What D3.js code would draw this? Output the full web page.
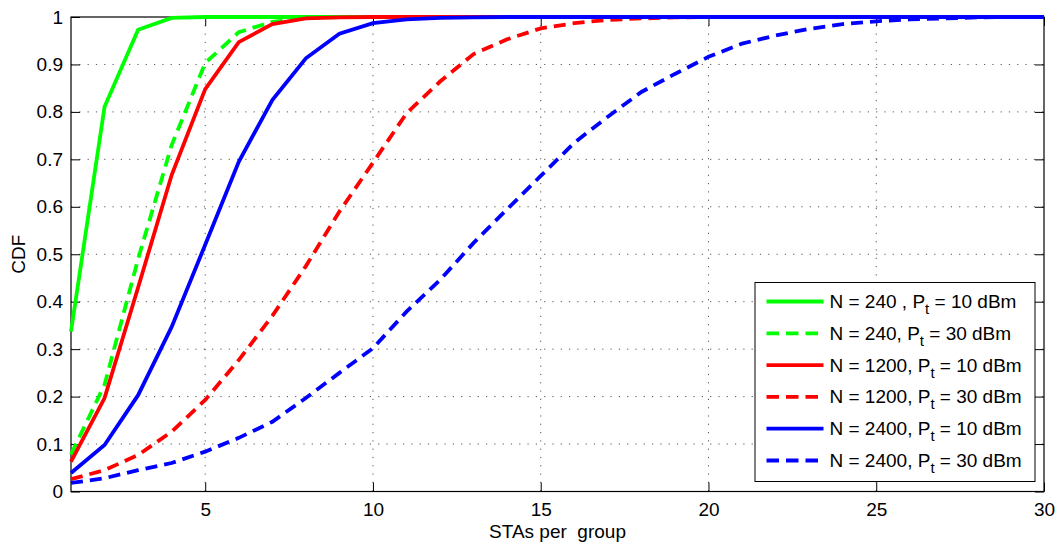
<!DOCTYPE html>
<html>
<head>
<meta charset="utf-8">
<script src="https://cdn.jsdelivr.net/npm/d3@7"></script>
<style>
  html, body { margin: 0; padding: 0; background: #fff; }
  svg { display: block; font-family: "Liberation Sans", Arial, sans-serif; }
  text { white-space: pre; }
</style>
</head>
<body>
<svg id="chart" width="1063" height="544"></svg>
<script>
// ---- data ----
const xValues = d3.range(1, 31);
const greenSolid  = [0.337,0.811,0.973,0.998,1,1,1,1,1,1,1,1,1,1,1,1,1,1,1,1,1,1,1,1,1,1,1,1,1,1];
const greenDashed = [0.078,0.225,0.49,0.73,0.903,0.968,0.99,0.998,1,1,1,1,1,1,1,1,1,1,1,1,1,1,1,1,1,1,1,1,1,1];
const redSolid    = [0.063,0.197,0.43,0.667,0.848,0.947,0.985,0.997,0.999,1,1,1,1,1,1,1,1,1,1,1,1,1,1,1,1,1,1,1,1,1];
const redDashed   = [0.026,0.045,0.077,0.126,0.193,0.277,0.37,0.475,0.59,0.693,0.797,0.864,0.922,0.953,0.976,0.987,0.994,0.997,0.999,1,1,1,1,1,1,1,1,1,1,1];
const blueSolid   = [0.039,0.098,0.203,0.347,0.52,0.695,0.825,0.913,0.965,0.987,0.995,0.998,0.999,1,1,1,1,1,1,1,1,1,1,1,1,1,1,1,1,1];
const blueDashed  = [0.018,0.028,0.045,0.06,0.084,0.113,0.147,0.197,0.25,0.302,0.379,0.446,0.524,0.595,0.665,0.735,0.79,0.842,0.88,0.916,0.944,0.961,0.975,0.985,0.991,0.995,0.997,0.999,1,1];

const xTicks = [5, 10, 15, 20, 25, 30];
const yTicks = [0, 0.1, 0.2, 0.3, 0.4, 0.5, 0.6, 0.7, 0.8, 0.9, 1];
const yTickLabels = ["0","0.1","0.2","0.3","0.4","0.5","0.6","0.7","0.8","0.9","1"];

const seriesNames = [
  ["N = 240 , P", "t", " = 10 dBm"],
  ["N = 240, P", "t", " = 30 dBm"],
  ["N = 1200, P", "t", " = 10 dBm"],
  ["N = 1200, P", "t", " = 30 dBm"],
  ["N = 2400, P", "t", " = 10 dBm"],
  ["N = 2400, P", "t", " = 30 dBm"]
];
const seriesData = [greenSolid, greenDashed, redSolid, redDashed, blueSolid, blueDashed];
const seriesColors = ["#00ff00", "#00ff00", "#ff0000", "#ff0000", "#0000ff", "#0000ff"];
const seriesDashed = [false, true, false, true, false, true];

// ---- layout ----
const mLeft = 71, mRight = 1044, mTop = 17, mBottom = 491.5;
const svg = d3.select("#chart");

const x = d3.scaleLinear().domain([1, 30]).range([mLeft, mRight]);
const y = d3.scaleLinear().domain([0, 1]).range([mBottom, mTop]);

// grid
const grid = svg.append("g");
grid.selectAll("line.gx").data(xTicks.filter(t => t < 30)).enter().append("line")
  .attr("x1", d => x(d)).attr("x2", d => x(d)).attr("y1", mTop).attr("y2", mBottom)
  .attr("stroke", "#555").attr("stroke-width", 1).attr("stroke-dasharray", "1.2,7.1");
grid.selectAll("line.gy").data(yTicks.filter(t => t > 0 && t < 1)).enter().append("line")
  .attr("x1", mLeft).attr("x2", mRight).attr("y1", d => y(d)).attr("y2", d => y(d))
  .attr("stroke", "#555").attr("stroke-width", 1).attr("stroke-dasharray", "1.2,7.1");

// axes (inward ticks, MATLAB style)
const fontSize = 19;
const axB = svg.append("g").attr("transform", `translate(0,${mBottom})`)
  .call(d3.axisBottom(x).tickValues(xTicks).tickSizeInner(-9).tickSizeOuter(0).tickPadding(11).tickFormat(d3.format("d")));
const axT = svg.append("g").attr("transform", `translate(0,${mTop})`)
  .call(d3.axisTop(x).tickValues(xTicks).tickSizeInner(-9).tickSizeOuter(0).tickFormat(""));
const axL = svg.append("g").attr("transform", `translate(${mLeft},0)`)
  .call(d3.axisLeft(y).tickValues(yTicks).tickSizeInner(-9).tickSizeOuter(0).tickPadding(8).tickFormat((d, i) => yTickLabels[i]));
const axR = svg.append("g").attr("transform", `translate(${mRight},0)`)
  .call(d3.axisRight(y).tickValues(yTicks).tickSizeInner(-9).tickSizeOuter(0).tickFormat(""));
[axB, axT, axL, axR].forEach(a => {
  a.select(".domain").remove();
  a.selectAll(".tick line").attr("stroke", "#000").attr("stroke-width", 1);
  a.selectAll(".tick text").attr("fill", "#000").style("font-size", fontSize + "px")
    .style("font-family", '"Liberation Sans", Arial, sans-serif');
});

// box
svg.append("rect").attr("x", mLeft).attr("y", mTop).attr("width", mRight - mLeft).attr("height", mBottom - mTop)
  .attr("fill", "none").attr("stroke", "#000").attr("stroke-width", 1.2);

// lines
const line = d3.line().x((d, i) => x(xValues[i])).y(d => y(d));
seriesData.forEach((s, i) => {
  svg.append("path").datum(s).attr("d", line)
    .attr("fill", "none").attr("stroke", seriesColors[i]).attr("stroke-width", 3.8)
    .attr("stroke-linejoin", "miter")
    .attr("stroke-dasharray", seriesDashed[i] ? "12,7" : null);
});

// axis labels
svg.append("text").attr("x", (mLeft + mRight) / 2).attr("y", 538).attr("text-anchor", "middle")
  .style("font-size", fontSize + "px").text("STAs per  group");
svg.append("text").attr("transform", `translate(25,${(mTop + mBottom) / 2}) rotate(-90)`).attr("text-anchor", "middle")
  .style("font-size", fontSize + "px").text("CDF");

// legend
const lg = svg.append("g");
lg.append("rect").attr("x", 755).attr("y", 282.5).attr("width", 280).attr("height", 199)
  .attr("fill", "#fff").attr("stroke", "#000").attr("stroke-width", 1);
const rowY = d3.scaleLinear().domain([0, 5]).range([301.5, 460.5]);
seriesNames.forEach((nm, i) => {
  const yy = rowY(i);
  lg.append("line").attr("x1", 766.5).attr("x2", 823.5).attr("y1", yy).attr("y2", yy)
    .attr("stroke", seriesColors[i]).attr("stroke-width", 3.8)
    .attr("stroke-dasharray", seriesDashed[i] ? "12.5,7" : null);
  const t = lg.append("text").attr("x", 829.5).attr("y", yy + 6.5).style("font-size", "19px");
  t.append("tspan").text(nm[0]);
  t.append("tspan").attr("dy", 6).style("font-size", "15px").text(nm[1]);
  t.append("tspan").attr("dy", -6).text(nm[2]);
});
</script>
</body>
</html>
